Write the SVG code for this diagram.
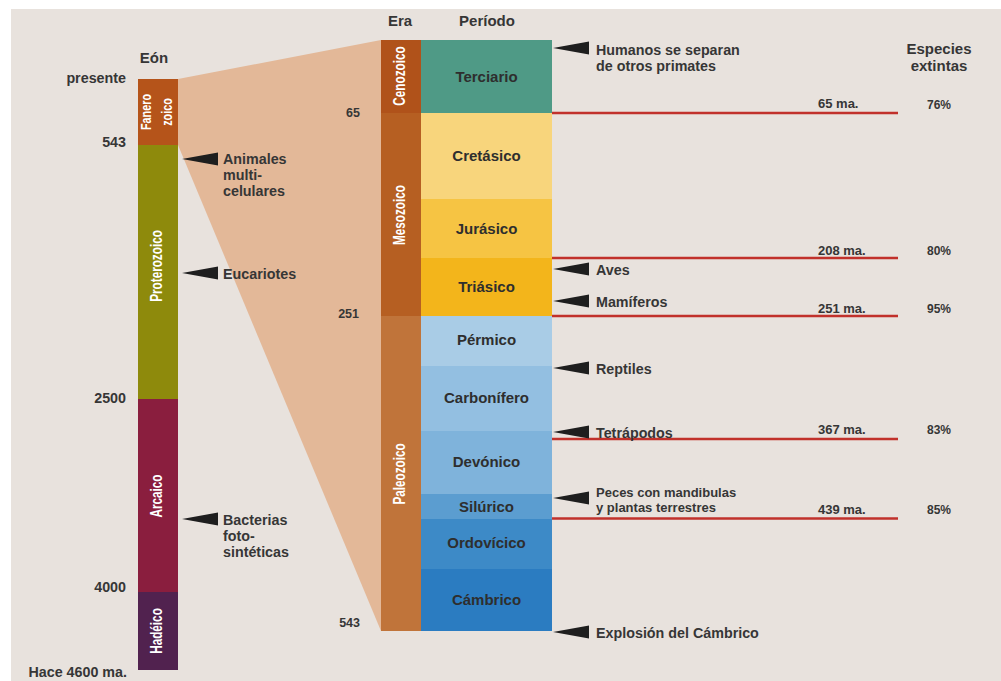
<svg xmlns="http://www.w3.org/2000/svg" width="1001" height="681" viewBox="0 0 1001 681">
<style>
text{font-family:"Liberation Sans",Arial,sans-serif;font-weight:bold;fill:#363636}
.hdr{font-size:15px}
.lbl{font-size:14.3px}
.lblr{font-size:14.3px;text-anchor:end}
.small{font-size:12.5px;text-anchor:end}
.ann{font-size:14.3px}
.ann2{font-size:13px}
.ma{font-size:13px}
.pct{font-size:12px;text-anchor:middle}
.per{font-size:15px;text-anchor:middle;fill:#2e2e2e}
.rot{font-size:17px;fill:#ffffff;text-anchor:middle}
.rots{font-size:15px;fill:#ffffff;text-anchor:middle}
.red{stroke:#c1312b;stroke-width:2.5;fill:none}
.ptr{fill:#1e1e1e}
</style>
<defs>
<path id="ptr" d="M0,0 L36,-6.5 L36,6.5 Z"/>
</defs>
<rect x="0" y="0" width="1001" height="681" fill="#ffffff"/>
<rect x="11" y="9" width="990" height="672" fill="#e8e2dd"/>

<!-- zoom funnel -->
<polygon points="178,79 381,40 381,631 178,145" fill="#e3b898"/>

<!-- headers -->
<text class="hdr" x="154" y="63" text-anchor="middle">Eón</text>
<text class="hdr" x="400" y="26" text-anchor="middle">Era</text>
<text class="hdr" x="487" y="26" text-anchor="middle">Período</text>
<text class="hdr" x="939" y="54" text-anchor="middle">Especies</text>
<text class="hdr" x="939" y="71" text-anchor="middle">extintas</text>

<!-- eon axis labels -->
<text class="lblr" x="126" y="83">presente</text>
<text class="lblr" x="126" y="147">543</text>
<text class="lblr" x="126" y="403">2500</text>
<text class="lblr" x="126" y="592">4000</text>
<text class="lblr" x="127" y="677">Hace 4600 ma.</text>

<!-- era axis labels -->
<text class="small" x="360" y="117">65</text>
<text class="small" x="359" y="318">251</text>
<text class="small" x="360" y="627">543</text>

<!-- Eons -->
<g id="eon-fanerozoico">
<rect x="138" y="79" width="40" height="66" fill="#b5541a"/>
<text class="rots" transform="translate(151,112) rotate(-90) scale(0.72,1)">Fanero</text>
<text class="rots" transform="translate(171.5,112) rotate(-90) scale(0.72,1)">zoico</text>
</g>
<g id="eon-proterozoico">
<rect x="138" y="145" width="40" height="254" fill="#8e8a0c"/>
<text class="rot" transform="translate(162,266) rotate(-90) scale(0.69,1)">Proterozoico</text>
</g>
<g id="eon-arcaico">
<rect x="138" y="399" width="40" height="193" fill="#8a1e3e"/>
<text class="rot" transform="translate(162,496) rotate(-90) scale(0.69,1)">Arcaico</text>
</g>
<g id="eon-hadeico">
<rect x="138" y="592" width="40" height="78" fill="#51224f"/>
<text class="rot" transform="translate(162,631) rotate(-90) scale(0.69,1)">Hadéico</text>
</g>

<!-- Eras -->
<g id="era-cenozoico">
<rect x="381" y="40" width="40" height="73" fill="#b0521a"/>
<text class="rot" transform="translate(405,76) rotate(-90) scale(0.69,1)">Cenozoico</text>
</g>
<g id="era-mesozoico">
<rect x="381" y="113" width="40" height="203" fill="#b65f22"/>
<text class="rot" transform="translate(405,215) rotate(-90) scale(0.69,1)">Mesozoico</text>
</g>
<g id="era-paleozoico">
<rect x="381" y="316" width="40" height="315" fill="#c0743a"/>
<text class="rot" transform="translate(405,474) rotate(-90) scale(0.69,1)">Paleozoico</text>
</g>

<!-- Periods -->
<g id="per-terciario"><rect x="421" y="40" width="131" height="73" fill="#4f9a86"/><text class="per" x="486.5" y="82">Terciario</text></g>
<g id="per-cretasico"><rect x="421" y="113" width="131" height="86" fill="#f8d57c"/><text class="per" x="486.5" y="161">Cretásico</text></g>
<g id="per-jurasico"><rect x="421" y="199" width="131" height="59" fill="#f6c443"/><text class="per" x="486.5" y="234">Jurásico</text></g>
<g id="per-triasico"><rect x="421" y="258" width="131" height="58" fill="#f3b51b"/><text class="per" x="486.5" y="292">Triásico</text></g>
<g id="per-permico"><rect x="421" y="316" width="131" height="50" fill="#a9cce6"/><text class="per" x="486.5" y="345">Pérmico</text></g>
<g id="per-carbonifero"><rect x="421" y="366" width="131" height="65" fill="#93bfe1"/><text class="per" x="486.5" y="403">Carbonífero</text></g>
<g id="per-devonico"><rect x="421" y="431" width="131" height="63" fill="#7fb3db"/><text class="per" x="486.5" y="467">Devónico</text></g>
<g id="per-silurico"><rect x="421" y="494" width="131" height="25" fill="#5b9dd0"/><text class="per" x="486.5" y="512">Silúrico</text></g>
<g id="per-ordovicico"><rect x="421" y="519" width="131" height="50" fill="#3d8ac7"/><text class="per" x="486.5" y="548">Ordovícico</text></g>
<g id="per-cambrico"><rect x="421" y="569" width="131" height="62" fill="#2b7cc1"/><text class="per" x="486.5" y="605">Cámbrico</text></g>

<!-- connectors: extinction lines and pointers -->
<g id="connectors">
<line class="red" x1="552" y1="113" x2="898" y2="113"/>
<line class="red" x1="552" y1="258" x2="898" y2="258"/>
<line class="red" x1="552" y1="316" x2="898" y2="316"/>
<line class="red" x1="552" y1="439" x2="898" y2="439"/>
<line class="red" x1="552" y1="518.5" x2="898" y2="518.5"/>
<use href="#ptr" class="ptr" x="182" y="159"/>
<use href="#ptr" class="ptr" x="182" y="273"/>
<use href="#ptr" class="ptr" x="182" y="519"/>
<use href="#ptr" class="ptr" x="553" y="48"/>
<use href="#ptr" class="ptr" x="553" y="269"/>
<use href="#ptr" class="ptr" x="553" y="301"/>
<use href="#ptr" class="ptr" x="553" y="368"/>
<use href="#ptr" class="ptr" x="553" y="432"/>
<use href="#ptr" class="ptr" x="553" y="498"/>
<use href="#ptr" class="ptr" x="553" y="632"/>
</g>

<!-- annotations -->
<g id="annotations">
<text class="ann" x="223" y="164">Animales</text>
<text class="ann" x="223" y="180">multi-</text>
<text class="ann" x="223" y="196">celulares</text>
<text class="ann" x="223" y="279">Eucariotes</text>
<text class="ann" x="223" y="525">Bacterias</text>
<text class="ann" x="223" y="541">foto-</text>
<text class="ann" x="223" y="557">sintéticas</text>
<text class="ann" x="596" y="55">Humanos se separan</text>
<text class="ann" x="596" y="71">de otros primates</text>
<text class="ann" x="596" y="275">Aves</text>
<text class="ann" x="596" y="307">Mamíferos</text>
<text class="ann" x="596" y="374">Reptiles</text>
<text class="ann" x="596" y="438">Tetrápodos</text>
<text class="ann2" x="596" y="497">Peces con mandibulas</text>
<text class="ann2" x="596" y="512">y plantas terrestres</text>
<text class="ann" x="596" y="638">Explosión del Cámbrico</text>
</g>

<!-- extinction data -->
<g id="extinctions">
<text class="ma" x="818" y="108">65 ma.</text>
<text class="ma" x="818" y="255">208 ma.</text>
<text class="ma" x="818" y="313">251 ma.</text>
<text class="ma" x="818" y="434">367 ma.</text>
<text class="ma" x="818" y="514">439 ma.</text>
<text class="pct" x="939" y="109">76%</text>
<text class="pct" x="939" y="255">80%</text>
<text class="pct" x="939" y="313">95%</text>
<text class="pct" x="939" y="434">83%</text>
<text class="pct" x="939" y="514">85%</text>
</g>
</svg>
